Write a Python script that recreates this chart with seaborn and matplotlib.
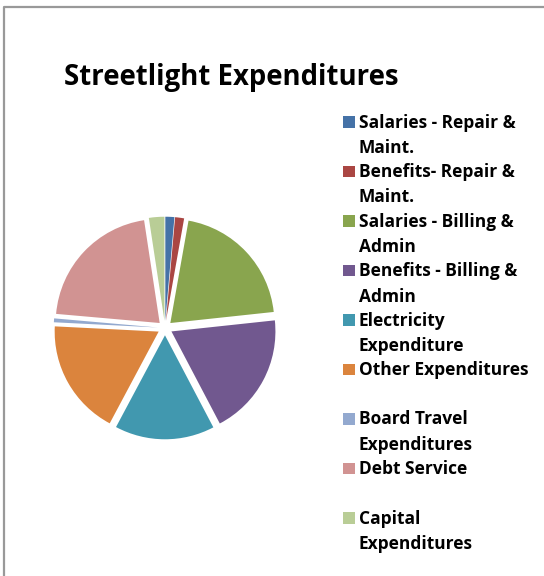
import matplotlib.pyplot as plt
import seaborn as sns
from matplotlib.lines import Line2D
from matplotlib.patches import Rectangle

sns.set_theme(style="white")
plt.rcParams['font.family'] = ['Open Sans', 'DejaVu Sans']

# Streetlight expenditure shares (%)
categories = ['Salaries - Repair &\nMaint.', 'Benefits- Repair &\nMaint.',
              'Salaries - Billing &\nAdmin', 'Benefits - Billing &\nAdmin',
              'Electricity\nExpenditure', 'Other Expenditures',
              'Board Travel\nExpenditures', 'Debt Service',
              'Capital\nExpenditures']
shares = [1.4, 1.4, 20.5, 19.0, 15.5, 18.0, 0.6, 21.2, 2.4]
colors = ['#4572A7', '#AA4643', '#89A54E', '#71588F', '#4198AF',
          '#DB843D', '#93A9CF', '#D19392', '#B9CD96']

fig = plt.figure(figsize=(5.44, 5.76), dpi=100)
W, H = 544, 576

# chart frame (only left and top edges are visible)
fig.lines.append(Line2D([3.5 / W, 3.5 / W, 1], [0, 1 - 6.5 / H, 1 - 6.5 / H],
                        transform=fig.transFigure, color='#999999', linewidth=1.6))

# pie axes: centre (165, 328) px from top, 1 unit = 104 px
unit = 104
cx, cy = 165, H - 328
half = 1.25 * unit
ax = fig.add_axes([(cx - half) / W, (cy - half) / H, 2 * half / W, 2 * half / H])
ax.pie(shares, colors=colors, startangle=90, counterclock=False,
       explode=[0.07] * len(shares), wedgeprops=dict(linewidth=0))
ax.set_xlim(-1.25, 1.25)
ax.set_ylim(-1.25, 1.25)
ax.set_aspect('equal')
ax.axis('off')

fig.text(64 / W, 1 - 84.5 / H, 'Streetlight Expenditures', fontsize=19.8,
         fontweight='bold', va='baseline', ha='left', color='black')

# legend, marker aligned with first line of each entry
base = 127.5
for lab, col in zip(categories, colors):
    fig.patches.append(Rectangle((343 / W, 1 - base / H), 12 / W, 11.5 / H,
                                 transform=fig.transFigure, facecolor=col,
                                 edgecolor='none'))
    for k, line in enumerate(lab.split('\n')):
        fig.text(359 / W, 1 - (base + 25.5 * k) / H, line, fontsize=12.5,
                 fontweight='bold', va='baseline', ha='left', color='black')
    base += 49.5

fig.savefig('out.png', dpi=100)
